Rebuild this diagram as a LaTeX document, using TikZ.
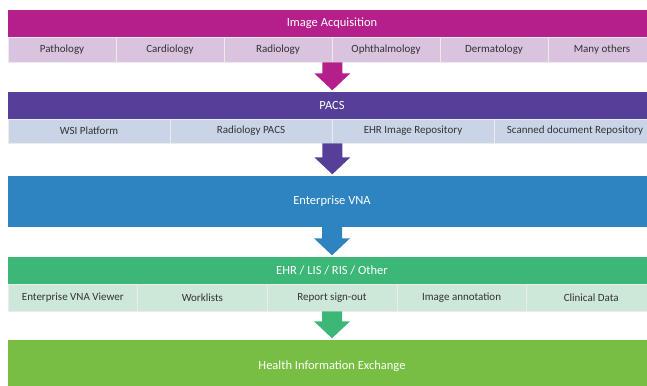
\documentclass[tikz,border=0pt]{standalone}
\usepackage{fontspec}
\setmainfont{Carlito}
\usetikzlibrary{calc}
\usetikzlibrary{positioning}

\definecolor{acqC}{HTML}{B41F8C}
\definecolor{acqL}{HTML}{D9C3DF}
\definecolor{pacsC}{HTML}{553F98}
\definecolor{pacsL}{HTML}{C9D5E7}
\definecolor{vnaC}{HTML}{2E83C1}
\definecolor{ehrC}{HTML}{3DB777}
\definecolor{ehrL}{HTML}{CDE8D8}
\definecolor{hieC}{HTML}{77BE43}
\definecolor{cellT}{HTML}{333333}

\tikzset{
  band/.style={rectangle, inner sep=0pt, text=white, font=\fontsize{12.5}{14}\selectfont, minimum width=648pt},
  cell/.style={rectangle, inner sep=0pt, draw=white!85!gray, line width=0.6pt, text=cellT, font=\fontsize{11}{13}\selectfont}
}

\begin{document}
\begin{tikzpicture}[x=1pt,y=-1pt]
  \clip (0,0) rectangle (647,385);

  \def\xo{8};
  \def\W{648};

  %draw bands
  \foreach \yc/\hh/\col/\txt/\name in {23.5/27/acqC/Image Acquisition/acq, 105.5/27/pacsC/PACS/pacs,
      201.5/51/vnaC/Enterprise VNA/vna, 270.5/27/ehrC/{EHR / LIS / RIS / Other}/ehr, 366/52/hieC/Health Information Exchange/hie}{
    \node[band, fill=\col, minimum height=\hh pt] (\name) at (\xo+\W/2, \yc) {\txt};
  }

  %row under acquisition
  \def\cw{108};
  \foreach \i/\num/\name in {0/Pathology/a1, 1/Cardiology/a2, 2/Radiology/a3, 3/Ophthalmology/a4, 4/Dermatology/a5, 5/Many others/a6}{
    \node[cell, fill=acqL, minimum width=\cw pt, minimum height=25pt] (\name) at (\xo+\i*\cw+\cw/2, 49.5) {\num};
  }

  %row under pacs
  \def\cw{162};
  \foreach \i/\num/\name in {0/WSI Platform/p1, 1/Radiology PACS/p2, 2/EHR Image Repository/p3, 3/Scanned document Repository/p4}{
    \node[cell, fill=pacsL, minimum width=\cw pt, minimum height=24pt] (\name) at (\xo+\i*\cw+\cw/2, 131) {\num};
  }

  %row under ehr
  \def\cw{129.6};
  \foreach \i/\num/\name in {0/Enterprise VNA Viewer/e1, 1/Worklists/e2, 2/Report sign-out/e3, 3/Image annotation/e4, 4/Clinical Data/e5}{
    \node[cell, fill=ehrL, minimum width=\cw pt, minimum height=27pt] (\name) at (\xo+\i*\cw+\cw/2, 297.5) {\num};
  }

  %block arrows
  \foreach \from/\to/\col in {a3.south east/pacs.north/acqC, p2.south east/vna.north/pacsC, vna.south/ehr.north/vnaC, e3.south/hie.north/ehrC}{
    \coordinate (top) at (\from);
    \coordinate (tip) at ($(\to -| top)+(0,-1.5)$);
    \fill[\col] ($(top)+(-10,0)$) -- ($(top)+(10,0)$) -- ($(tip)+(10,-17)$) -- ($(tip)+(18,-17)$)
       -- (tip) -- ($(tip)+(-18,-17)$) -- ($(tip)+(-10,-17)$) -- cycle;
  }

\end{tikzpicture}
\end{document}
